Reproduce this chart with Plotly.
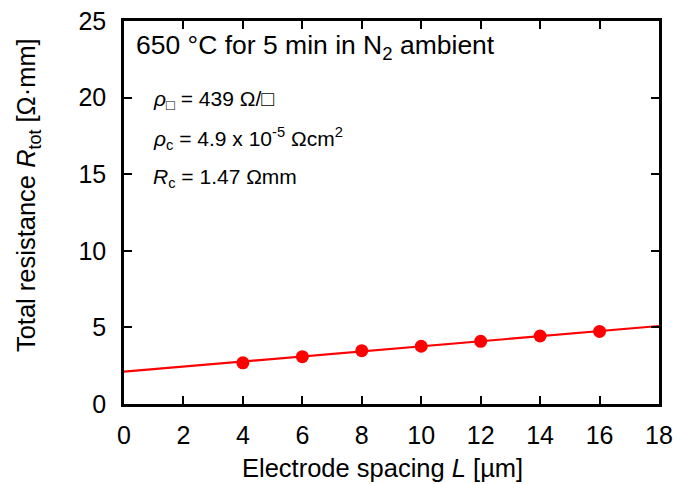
import plotly.graph_objects as go

spacing_um = [4, 6, 8, 10, 12, 14, 16]
resistance = [2.69, 3.09, 3.48, 3.77, 4.09, 4.44, 4.74]
fit_x = [0, 18]
fit_y = [2.11, 5.09]
x_ticks = [0, 2, 4, 6, 8, 10, 12, 14, 16, 18]
y_ticks = [0, 5, 10, 15, 20, 25]

FONT = "Liberation Sans, Arial, Helvetica, sans-serif"

fig = go.Figure()
fig.add_trace(go.Scatter(x=fit_x, y=fit_y, mode="lines",
                         line=dict(color="#ff0000", width=2.2), showlegend=False))
fig.add_trace(go.Scatter(x=spacing_um, y=resistance, mode="markers",
                         marker=dict(color="#ff0000", size=13), showlegend=False))

axis_common = dict(showline=True, linecolor="black", linewidth=2.5, mirror="ticks",
                   ticks="inside", ticklen=8, tickwidth=2, tickcolor="black",
                   showgrid=False, zeroline=False, automargin=False,
                   tickfont=dict(family=FONT, size=25, color="black"))

fig.update_xaxes(range=[0, 18], tickvals=x_ticks, ticklabelstandoff=7, **axis_common)
fig.update_yaxes(range=[0, 25], tickvals=y_ticks, ticklabelstandoff=10, **axis_common)

title_font = dict(family=FONT, size=25.5, color="black")
fig.add_annotation(xref="paper", yref="paper", x=0.483, y=-0.167, xanchor="center", yanchor="middle",
                   text="Electrode spacing <i>L</i> [µm]", showarrow=False, font=title_font)
fig.add_annotation(xref="paper", yref="paper", x=-0.179, y=0.546, xanchor="center", yanchor="middle",
                   text="Total resistance <i>R</i><sub>tot</sub> [Ω·mm]", showarrow=False,
                   textangle=-90, font=title_font)

ann_font = dict(family=FONT, size=21, color="black")
fig.add_annotation(xref="paper", yref="paper", x=0.018, y=0.932, xanchor="left", yanchor="middle",
                   text="650 °C for 5 min in N<sub>2</sub> ambient", showarrow=False,
                   font=dict(family=FONT, size=26.5, color="black"))
fig.add_annotation(xref="paper", yref="paper", x=0.05, y=0.795, xanchor="left", yanchor="middle",
                   text="<i>ρ</i><sub>□</sub> = 439 Ω/□", showarrow=False, font=ann_font)
fig.add_annotation(xref="paper", yref="paper", x=0.05, y=0.693, xanchor="left", yanchor="middle",
                   text="<i>ρ</i><sub>c</sub> = 4.9 x 10<sup>-5</sup> Ωcm<sup>2</sup>", showarrow=False, font=ann_font)
fig.add_annotation(xref="paper", yref="paper", x=0.05, y=0.589, xanchor="left", yanchor="middle",
                   text="<i>R</i><sub>c</sub> = 1.47 Ωmm", showarrow=False, font=ann_font)

fig.update_layout(width=679, height=484, margin=dict(l=124, r=20, t=21, b=80),
                  plot_bgcolor="white", paper_bgcolor="white")

fig.write_html("out.html")
